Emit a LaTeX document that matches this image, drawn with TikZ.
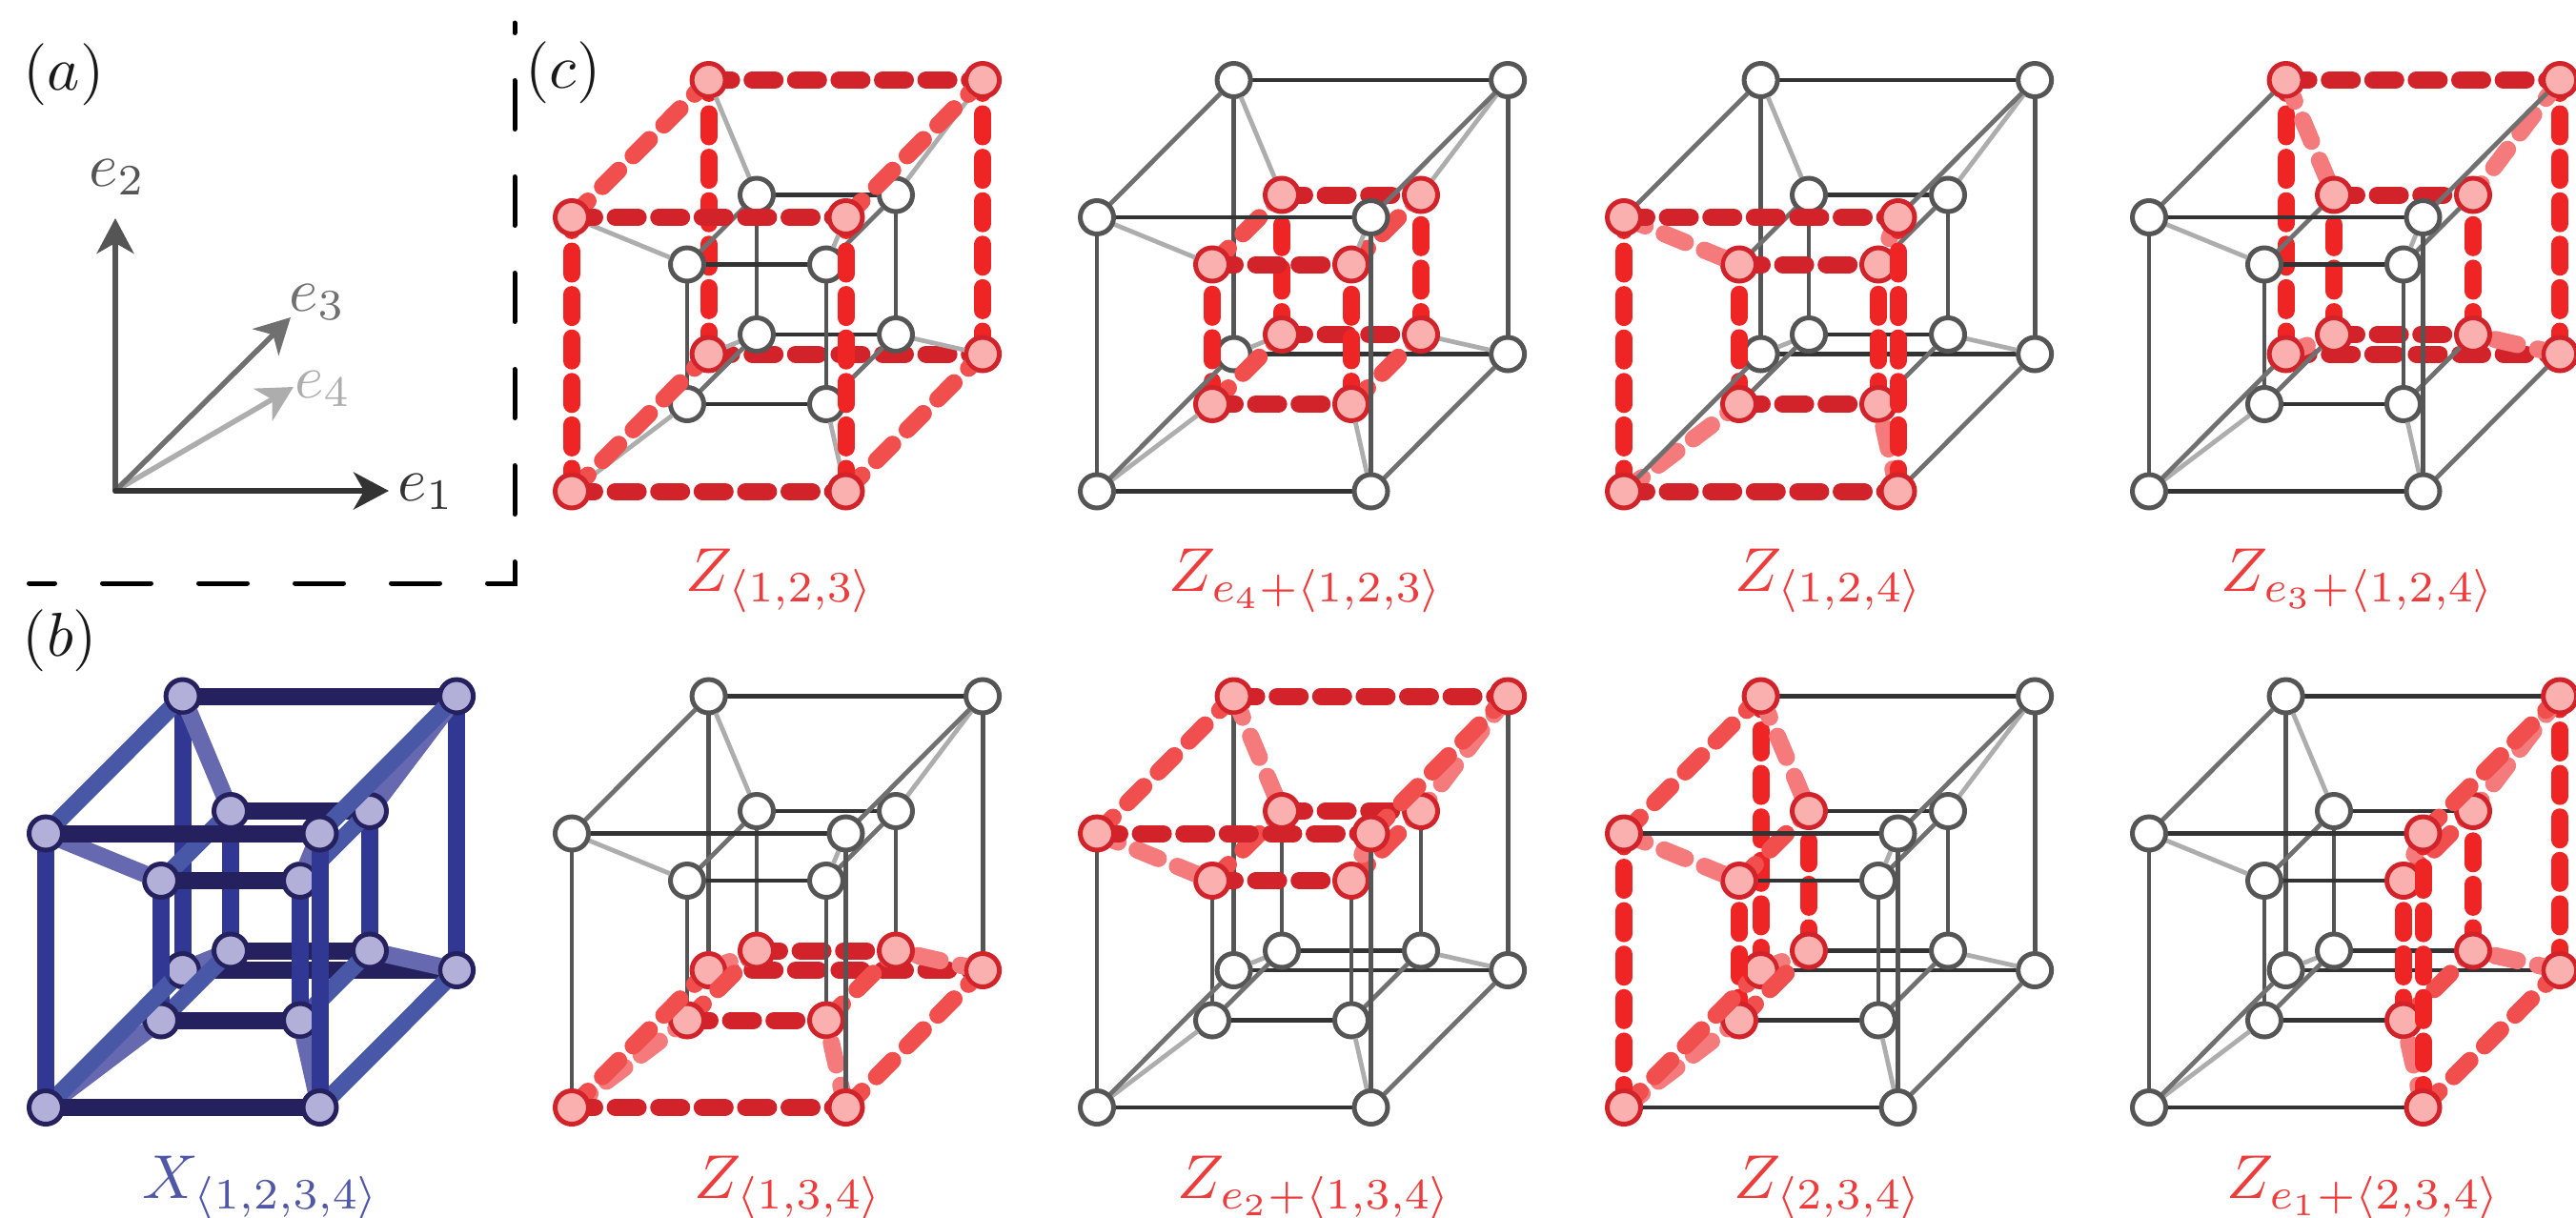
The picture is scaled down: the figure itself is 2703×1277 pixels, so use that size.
\documentclass[tikz,border=0pt]{standalone}
\usetikzlibrary{arrows.meta}
\pgfdeclarelayer{f10}\pgfdeclarelayer{n10}\pgfdeclarelayer{g1}
\pgfdeclarelayer{f11}\pgfdeclarelayer{n11}\pgfdeclarelayer{h1}
\pgfdeclarelayer{f01}\pgfdeclarelayer{n01}\pgfdeclarelayer{g0}
\pgfdeclarelayer{h0}\pgfdeclarelayer{f00}\pgfdeclarelayer{n00}
\pgfsetlayers{f10,n10,g1,f11,n11,h1,f01,n01,g0,h0,f00,n00,main}
\definecolor{plainA}{HTML}{333333}\definecolor{plainB}{HTML}{555555}
\definecolor{plainC}{HTML}{707070}\definecolor{plainD}{HTML}{ADADAD}
\definecolor{redA}{HTML}{D2232A}\definecolor{redB}{HTML}{EE2524}
\definecolor{redC}{HTML}{F14E4E}\definecolor{redD}{HTML}{F47A7C}
\definecolor{redF}{HTML}{F9B0AE}
\definecolor{blueA}{HTML}{24215E}\definecolor{blueB}{HTML}{303894}
\definecolor{blueC}{HTML}{4858A6}\definecolor{blueD}{HTML}{6669B0}
\definecolor{blueF}{HTML}{B2B0D8}
\definecolor{zlabel}{HTML}{EE3B3B}\definecolor{xlabel}{HTML}{5057A6}
\tikzset{
  vtxbase/.style={circle,draw,inner sep=0pt,minimum size=35pt,line width=5pt},
  plain vtx/.style={vtxbase,draw=plainB,fill=white},
  red vtx/.style={vtxbase,draw=redA,fill=redF},
  blue vtx/.style={vtxbase,draw=blueA,fill=blueF},
  plain e1/.style={draw=plainA,line width=4.8pt},
  plain e2/.style={draw=plainB,line width=4.8pt},
  plain e3/.style={draw=plainC,line width=4.8pt},
  plain e4/.style={draw=plainD,line width=4.8pt},
  redbar/.style={line width=18pt,line cap=round,dash pattern=on 24pt off 21.6pt},
  red e1/.style={redbar,draw=redA},
  red e2/.style={redbar,draw=redB},
  red e3/.style={redbar,draw=redC},
  red e4/.style={redbar,draw=redD},
  blue e1/.style={draw=blueA,line width=18pt},
  blue e2/.style={draw=blueB,line width=18pt},
  blue e3/.style={draw=blueC,line width=18pt},
  blue e4/.style={draw=blueD,line width=18pt},
  biglabel/.style={scale=6.5,inner sep=0pt,anchor=base},
  panellabel/.style={scale=6.5,inner sep=0pt,text=black!90},
  zname/.style={biglabel,text=zlabel},
  xname/.style={biglabel,text=xlabel},
  axis arrow/.style={line width=5.5pt,line cap=round,-{Stealth[length=37pt,width=39pt,inset=11pt]}},
  boxline/.style={draw=black,line width=5pt,line cap=round,dash pattern=on 51pt off 50pt,dash phase=24pt},
}
\newif\ifhcactive
% a b c d: is this vertex in the highlighted sub-cube?
\newcommand\hctest[4]{\hcactivetrue
  \ifnum\hcaxis>0
    \ifnum\ifcase\hcaxis\relax 0\or#1\or#2\or#3\or#4\fi=\hcval\relax\else\hcactivefalse\fi
  \fi}
\newcommand\hcdraw[3]{\draw[#1] (#2.center) -- (#3.center);}
\newcommand\hcdrawu[4]{\begin{scope}[even odd rule]
  \clip (0,0) rectangle (2703,1277) (#4.center) circle (19.5pt);
  \draw[#1] (#2.center) -- (#3.center);\end{scope}}
\newcommand\hcnode[4]{\node[#1] (#2) at (#3,#4) {};}
\newcommand\hcpick[1]{\ifhcactive\edef\hcsty{\hcfam\space e#1}\else\edef\hcsty{plain e#1}\fi}
% layer, direction, from, to
\newcommand\hcedge[4]{\hcpick{#2}%
  \begin{pgfonlayer}{#1}\expandafter\hcdraw\expandafter{\hcsty}{#3}{#4}\end{pgfonlayer}}
% layer, direction, from, to, node that lies over the end of this edge
\newcommand\hcedgeu[5]{\hcpick{#2}%
  \begin{pgfonlayer}{#1}\expandafter\hcdrawu\expandafter{\hcsty}{#3}{#4}{#5}\end{pgfonlayer}}
% name, x, y, axis, value, family
\newcommand\hypercube[6]{%
  \def\hcname{#1}\def\hcox{#2}\def\hcoy{#3}\def\hcaxis{#4}\def\hcval{#5}\def\hcfam{#6}%
  \foreach \a in {0,1}\foreach \b in {0,1}\foreach \c in {0,1}\foreach \d in {0,1}{%
    \pgfmathsetmacro\xx{\hcox+(1-\d)*(\a*287.5+\c*143.6)+\d*(121+\a*146+\c*73)}%
    \pgfmathsetmacro\yy{\hcoy-(1-\d)*(\b*287.5+\c*144)-\d*(91.5+\b*146.5+\c*73)}%
    \hctest{\a}{\b}{\c}{\d}%
    \ifhcactive\edef\hcsty{\hcfam\space vtx}\else\edef\hcsty{plain vtx}\fi
    \begin{pgfonlayer}{n\c\d}\expandafter\hcnode\expandafter{\hcsty}{\hcname-\a\b\c\d}{\xx}{\yy}\end{pgfonlayer}%
  }%
  \foreach \c in {0,1}\foreach \d in {0,1}\foreach \k in {0,1}{%
    % e1 edges
    \ifnum\hcaxis=1 \hcactivefalse\else\hctest{0}{\k}{\c}{\d}\fi
    \hcedge{f\c\d}{1}{\hcname-0\k\c\d}{\hcname-1\k\c\d}%
    % e2 edges
    \ifnum\hcaxis=2 \hcactivefalse\else\hctest{\k}{0}{\c}{\d}\fi
    \hcedge{f\c\d}{2}{\hcname-\k0\c\d}{\hcname-\k1\c\d}%
    % e3 edges
    \ifnum\hcaxis=3 \hcactivefalse\else\hctest{\c}{\k}{0}{\d}\fi
    \ifnum\d=0 \hcedgeu{h0}{3}{\hcname-\c\k00}{\hcname-\c\k10}{\hcname-\c\k10}\else\hcedgeu{h1}{3}{\hcname-\c\k01}{\hcname-\c\k11}{\hcname-\c\k11}\fi
    % e4 edges
    \ifnum\hcaxis=4 \hcactivefalse\else\hctest{\c}{\k}{\d}{0}\fi
    \ifnum\d=0 \hcedgeu{g0}{4}{\hcname-\c\k00}{\hcname-\c\k01}{\hcname-\c\k01}\else\hcedgeu{g1}{4}{\hcname-\c\k10}{\hcname-\c\k11}{\hcname-\c\k10}\fi
  }%
}
\begin{document}
\begin{tikzpicture}[x=1pt,y=-1pt]
\useasboundingbox (0,0) rectangle (2703,1277);
\begin{scope}
\clip (0,0) rectangle (2703,1277);
\hypercube{xx}{48}{1162}{0}{0}{blue}
\hypercube{p1}{600}{515.5}{4}{0}{red}
\hypercube{p2}{1151}{515.5}{4}{1}{red}
\hypercube{p3}{1704}{515.5}{3}{0}{red}
\hypercube{p4}{2255}{515.5}{3}{1}{red}
\hypercube{q1}{600}{1162}{2}{0}{red}
\hypercube{q2}{1151}{1162}{2}{1}{red}
\hypercube{q3}{1704}{1162}{1}{0}{red}
\hypercube{q4}{2255}{1162}{1}{1}{red}
\end{scope}
% panel (a)
\coordinate (o) at (121,515);
\coordinate (t1) at (408,515);
\coordinate (t2) at (121,229);
\coordinate (t3) at (305,333);
\coordinate (t4) at (308,406);
\draw[axis arrow,draw=plainD,fill=plainD] (o) -- (t4);
\draw[axis arrow,draw=plainC,fill=plainC] (o) -- (t3);
\draw[axis arrow,draw=plainB,fill=plainB] (o) -- (t2);
\draw[axis arrow,draw=plainA,fill=plainA] (o) -- (t1);
\node[panellabel,text=plainA] (le1) at (447,516) {$e_1$};
\node[panellabel,text=plainB] (le2) at (123,186) {$e_2$};
\node[panellabel,text=plainC] (le3) at (333,317) {$e_3$};
\node[panellabel,text=plainD] (le4) at (339,408) {$e_4$};
% frame
\coordinate (fa) at (30.5,612);
\coordinate (fb) at (540,612);
\coordinate (fc) at (540,24);
\draw[boxline] (fa) -- (fb) -- (fc);
% panel letters
\node[panellabel] (la) at (67,78) {$(a)$};
\node[panellabel] (lb) at (63,672) {$(b)$};
\node[panellabel] (lc) at (591,76) {$(c)$};
% names
\node[zname] (z1) at (819,620) {$Z_{\langle 1,2,3\rangle}$};
\node[zname] (z2) at (1371,620) {$Z_{e_4+\langle 1,2,3\rangle}$};
\node[zname] (z3) at (1920,620) {$Z_{\langle 1,2,4\rangle}$};
\node[zname] (z4) at (2475,620) {$Z_{e_3+\langle 1,2,4\rangle}$};
\node[xname] (x0) at (274.5,1257) {$X_{\langle 1,2,3,4\rangle}$};
\node[zname] (z5) at (828,1257) {$Z_{\langle 1,3,4\rangle}$};
\node[zname] (z6) at (1380,1257) {$Z_{e_2+\langle 1,3,4\rangle}$};
\node[zname] (z7) at (1919,1257) {$Z_{\langle 2,3,4\rangle}$};
\node[zname] (z8) at (2481,1257) {$Z_{e_1+\langle 2,3,4\rangle}$};
\end{tikzpicture}
\end{document}
